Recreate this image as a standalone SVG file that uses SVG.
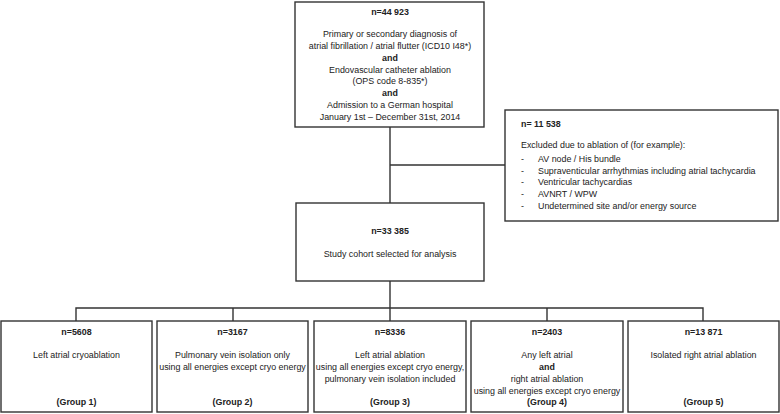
<svg xmlns="http://www.w3.org/2000/svg" width="780" height="414" viewBox="0 0 780 414">
<style>
.box{fill:#fff;stroke:#333;stroke-width:1.4}
.ln{fill:none;stroke:#333;stroke-width:1.4}
text{font-family:"Liberation Sans",Arial,sans-serif;font-size:8.9px;fill:#222}
.c{text-anchor:middle}
.b{font-weight:bold}
</style>
<rect width="780" height="414" fill="#fff"/>
<g id="connectors">
<path class="ln" d="M390,127 V203 M390,165 H505 M390,281 V308 M76,321 V308 H703 V321 M233,308 V321 M390,308 V321 M547,308 V321"/>
</g>
<g id="n_total">
<rect class="box" x="295" y="2" width="189" height="125"/>
<text class="c b" x="390" y="15">n=44 923</text>
<text class="c" x="390" y="37">Primary or secondary diagnosis of</text>
<text class="c" x="390" y="49">atrial fibrillation / atrial flutter (ICD10 I48*)</text>
<text class="c b" x="390" y="61">and</text>
<text class="c" x="390" y="73">Endovascular catheter ablation</text>
<text class="c" x="390" y="84">(OPS code 8-835*)</text>
<text class="c b" x="390" y="96">and</text>
<text class="c" x="390" y="108">Admission to a German hospital</text>
<text class="c" x="390" y="120">January 1st – December 31st, 2014</text>
</g>
<g id="excluded">
<rect class="box" x="505" y="110" width="273" height="111"/>
<text class="b" x="521" y="127">n= 11 538</text>
<text x="521" y="148">Excluded due to ablation of (for example):</text>
<text x="521" y="162">-</text><text x="538" y="162">AV node / His bundle</text>
<text x="521" y="174">-</text><text x="538" y="174">Supraventicular arrhythmias including atrial tachycardia</text>
<text x="521" y="185">-</text><text x="538" y="185">Ventricular tachycardias</text>
<text x="521" y="197">-</text><text x="538" y="197">AVNRT / WPW</text>
<text x="521" y="209">-</text><text x="538" y="209">Undetermined site and/or energy source</text>
</g>
<g id="cohort">
<rect class="box" x="296" y="203" width="188" height="78"/>
<text class="c b" x="390" y="234">n=33 385</text>
<text class="c" x="390" y="257">Study cohort selected for analysis</text>
</g>
<g id="group1">
<rect class="box" x="1" y="321" width="151" height="91"/>
<text class="c b" x="76.5" y="335">n=5608</text>
<text class="c" x="76.5" y="358">Left atrial cryoablation</text>
<text class="c b" x="76.5" y="405">(Group 1)</text>
</g>
<g id="group2">
<rect class="box" x="157" y="321" width="151" height="91"/>
<text class="c b" x="232.5" y="335">n=3167</text>
<text class="c" x="232.5" y="358">Pulmonary vein isolation only</text>
<text class="c" x="232.5" y="370">using all energies except cryo energy</text>
<text class="c b" x="232.5" y="405">(Group 2)</text>
</g>
<g id="group3">
<rect class="box" x="314" y="321" width="152" height="91"/>
<text class="c b" x="390" y="335">n=8336</text>
<text class="c" x="390" y="358">Left atrial ablation</text>
<text class="c" x="390" y="370">using all energies except cryo energy,</text>
<text class="c" x="390" y="382">pulmonary vein isolation included</text>
<text class="c b" x="390" y="405">(Group 3)</text>
</g>
<g id="group4">
<rect class="box" x="471" y="321" width="152" height="91"/>
<text class="c b" x="547" y="335">n=2403</text>
<text class="c" x="547" y="358">Any left atrial</text>
<text class="c b" x="547" y="370">and</text>
<text class="c" x="547" y="382">right atrial ablation</text>
<text class="c" x="547" y="394">using all energies except cryo energy</text>
<text class="c b" x="547" y="405">(Group 4)</text>
</g>
<g id="group5">
<rect class="box" x="628" y="321" width="151" height="91"/>
<text class="c b" x="703.5" y="335">n=13 871</text>
<text class="c" x="703.5" y="358">Isolated right atrial ablation</text>
<text class="c b" x="703.5" y="405">(Group 5)</text>
</g>
</svg>
